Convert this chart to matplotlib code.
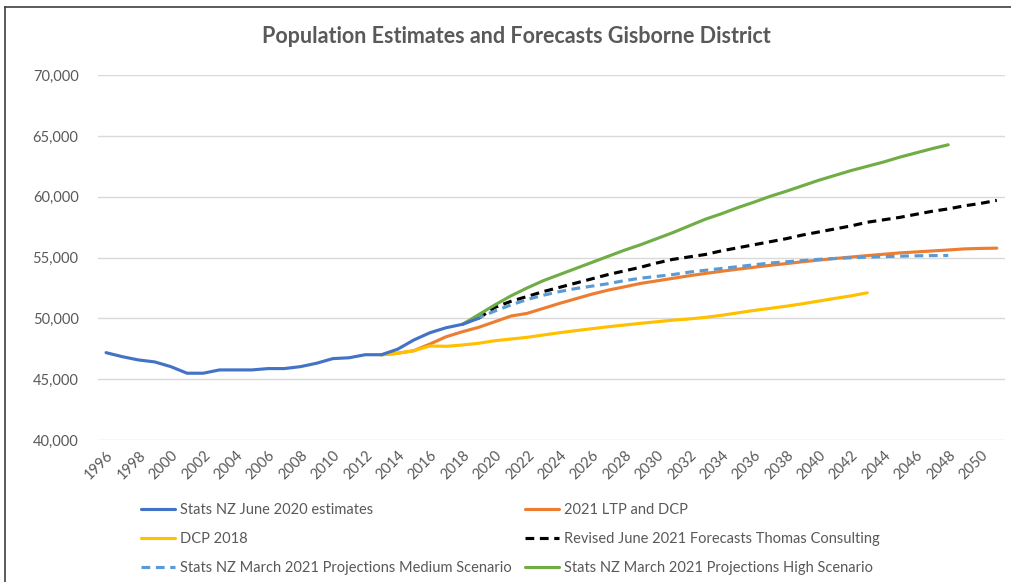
import matplotlib
matplotlib.use("Agg")
import matplotlib.pyplot as plt
from matplotlib.lines import Line2D

plt.rcParams['font.family'] = ['Lato', 'DejaVu Sans']

# population series, one list per source
est_years = list(range(1996, 2020))
est_vals = [47180, 46850, 46580, 46420, 46030, 45490, 45490, 45760, 45760, 45760,
            45870, 45870, 46030, 46310, 46690, 46760, 47010, 47010, 47460, 48220,
            48820, 49230, 49510, 50000]

ltp_years = list(range(2013, 2052))
ltp_vals = [47000, 47130, 47340, 47890, 48490, 48900, 49260, 49720, 50190, 50410,
            50820, 51230, 51610, 51990, 52320, 52590, 52870, 53080, 53290, 53500,
            53690, 53870, 54040, 54200, 54360, 54500, 54650, 54790, 54920, 55040,
            55160, 55270, 55380, 55460, 55540, 55620, 55710, 55750, 55770]

dcp_years = list(range(2013, 2044))
dcp_vals = [47000, 47130, 47340, 47730, 47700, 47810, 47950, 48160, 48300, 48440,
            48630, 48820, 48990, 49150, 49310, 49450, 49590, 49720, 49850, 49950,
            50080, 50250, 50450, 50650, 50820, 51000, 51200, 51420, 51640, 51850,
            52100]

thomas_years = list(range(2019, 2052))
thomas_vals = [50000, 50900, 51400, 51800, 52200, 52550, 52900, 53250, 53600, 53900,
               54200, 54550, 54850, 55050, 55250, 55550, 55800, 56050, 56300, 56550,
               56850, 57100, 57350, 57600, 57900, 58100, 58300, 58550, 58800, 59000,
               59250, 59450, 59700]

medium_years = list(range(2018, 2049))
medium_vals = [49500, 50050, 50600, 51100, 51550, 51900, 52200, 52450, 52650, 52850,
               53100, 53300, 53450, 53600, 53800, 53950, 54100, 54250, 54400, 54550,
               54650, 54750, 54850, 54920, 54980, 55030, 55070, 55110, 55140, 55160,
               55170]

high_years = list(range(2018, 2049))
high_vals = [49500, 50300, 51100, 51850, 52500, 53100, 53600, 54100, 54600, 55100,
             55600, 56050, 56550, 57050, 57600, 58150, 58600, 59100, 59550, 60030,
             60450, 60900, 61350, 61750, 62150, 62500, 62850, 63250, 63600, 63950,
             64270]

labels = ["Stats NZ June 2020 estimates", "2021 LTP and DCP", "DCP 2018",
          "Revised June 2021 Forecasts Thomas Consulting",
          "Stats NZ March 2021 Projections Medium Scenario",
          "Stats NZ March 2021 Projections High Scenario"]

grey = "#595959"
lw = 2.25

fig = plt.figure(figsize=(10.12, 5.82), dpi=100)
ax = fig.add_axes([0.0968, 0.244, 0.8962, 0.627])

l_est, = ax.plot(est_years, est_vals, color="#4472C4", lw=lw, solid_capstyle="round")
l_ltp, = ax.plot(ltp_years, ltp_vals, color="#ED7D31", lw=lw, solid_capstyle="round")
l_dcp, = ax.plot(dcp_years, dcp_vals, color="#FFC000", lw=lw, solid_capstyle="round")
l_tho, = ax.plot(thomas_years, thomas_vals, color="black", lw=lw, dashes=(2.8, 1.8))
l_med, = ax.plot(medium_years, medium_vals, color="#5B9BD5", lw=lw, dashes=(2.8, 1.8))
l_high, = ax.plot(high_years, high_vals, color="#70AD47", lw=lw, solid_capstyle="round")
# the estimates line sits on top where the series meet
l_est.set_zorder(3)

ax.set_xlim(1995.5, 2051.5)
ax.set_ylim(40000, 70000)
ax.set_yticks(range(40000, 70001, 5000))
ax.yaxis.set_major_formatter(matplotlib.ticker.FuncFormatter(lambda v, p: f"{int(v):,}"))
ax.set_xticks(range(1996, 2051, 2))
ax.set_xticklabels([str(y) for y in range(1996, 2051, 2)], rotation=45,
                   ha="right", rotation_mode="anchor")

ax.grid(axis="y", color="#D9D9D9", lw=1)
ax.set_axisbelow(True)
for s in ax.spines.values():
    s.set_visible(False)
ax.tick_params(axis="both", length=0, colors=grey, labelsize=10.5)
ax.tick_params(axis="y", pad=14)
ax.tick_params(axis="x", pad=6)

fig.text(0.51, 0.938, "Population Estimates and Forecasts Gisborne District",
         ha="center", va="center", fontsize=15.5, fontweight="bold", color=grey)

# legend laid out row by row: matplotlib fills columns first
order = [l_est, l_dcp, l_med, l_ltp, l_tho, l_high]
names = [labels[0], labels[2], labels[4], labels[1], labels[3], labels[5]]
leg = fig.legend(order, names, ncol=2, loc="upper left", bbox_to_anchor=(0.134, 0.145),
                 frameon=False, fontsize=10.5, handlelength=2.3, handletextpad=0.35,
                 columnspacing=0.9, labelspacing=1.0, borderaxespad=0)
for t in leg.get_texts():
    t.set_color(grey)

# chart frame on the left and top
fig.add_artist(Line2D([0.005, 0.005], [0, 0.988], color="#404040", lw=1.2,
                      transform=fig.transFigure))
fig.add_artist(Line2D([0.005, 1.0], [0.988, 0.988], color="#404040", lw=1.2,
                      transform=fig.transFigure))

fig.savefig("out.png", dpi=100)
